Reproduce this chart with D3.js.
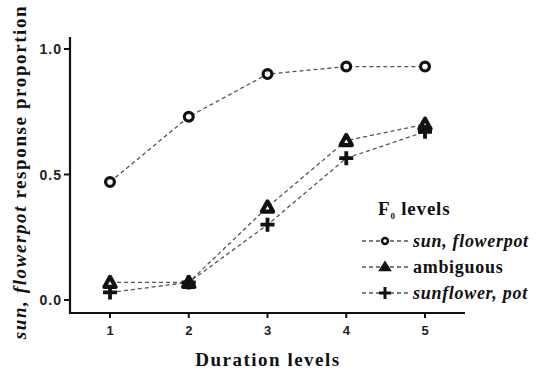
<!DOCTYPE html>
<html>
<head>
<meta charset="utf-8">
<script src="https://cdn.jsdelivr.net/npm/d3@7"></script>
<style>
  body { margin: 0; background: #fff; }
</style>
</head>
<body>
<div id="chart"></div>
<script>
const durations = [1, 2, 3, 4, 5];
const yTicks = [0.0, 0.5, 1.0];
const seriesNames = ["sun, flowerpot", "ambiguous", "sunflower, pot"];
const sunFlowerpot = [0.47, 0.73, 0.90, 0.93, 0.93];
const ambiguous = [0.07, 0.07, 0.37, 0.635, 0.70];
const sunflowerPot = [0.03, 0.07, 0.30, 0.565, 0.67];

const W = 544, H = 374;
const svg = d3.select("#chart").append("svg")
  .attr("width", W).attr("height", H);

const x = d3.scaleLinear().domain([1, 5]).range([110, 425]);
const y = d3.scaleLinear().domain([0, 1]).range([300, 49]);

const axisColor = "#111";
const sans = "Liberation Sans, Arial, sans-serif";
const serif = "Liberation Serif, Times New Roman, serif";

// x axis
const xAxis = svg.append("g").attr("transform", "translate(0,313)");
xAxis.append("line").attr("x1", 70).attr("x2", 465)
  .attr("stroke", axisColor).attr("stroke-width", 2.2);
durations.forEach(d => {
  xAxis.append("line").attr("x1", x(d)).attr("x2", x(d)).attr("y1", 0).attr("y2", 5)
    .attr("stroke", axisColor).attr("stroke-width", 2);
  xAxis.append("text").attr("x", x(d)).attr("y", 22)
    .attr("text-anchor", "middle")
    .attr("font-family", sans)
    .attr("font-weight", "bold").attr("font-size", 13).attr("fill", "#222")
    .text(d);
});

// y axis
const yAxis = svg.append("g");
yAxis.append("line").attr("x1", 70).attr("x2", 70).attr("y1", 37).attr("y2", 314)
  .attr("stroke", axisColor).attr("stroke-width", 2.2);
yTicks.forEach(t => {
  yAxis.append("line").attr("x1", 64).attr("x2", 70).attr("y1", y(t)).attr("y2", y(t))
    .attr("stroke", axisColor).attr("stroke-width", 2);
  yAxis.append("text").attr("x", 62).attr("y", y(t) + 5)
    .attr("text-anchor", "end")
    .attr("font-family", sans).attr("letter-spacing", 1)
    .attr("font-weight", "bold").attr("font-size", 14).attr("fill", "#222")
    .text(d3.format(".1f")(t));
});

// axis titles
svg.append("text").attr("x", 268).attr("y", 366)
  .attr("text-anchor", "middle")
  .attr("font-family", serif).attr("letter-spacing", 1.5)
  .attr("font-weight", "bold").attr("font-size", 19).attr("fill", "#111")
  .text("Duration levels");

const yTitle = svg.append("text")
  .attr("transform", "translate(26,172) rotate(-90)")
  .attr("text-anchor", "middle")
  .attr("font-family", serif).attr("letter-spacing", 1.6)
  .attr("font-weight", "bold").attr("font-size", 19).attr("fill", "#111");
yTitle.append("tspan").attr("font-style", "italic").text("sun, flowerpot");
yTitle.append("tspan").text(" response proportion");

// markers
function drawMarker(g, type, cx, cy) {
  if (type === 0) {
    g.append("circle").attr("cx", cx).attr("cy", cy).attr("r", 4.4)
      .attr("fill", "#fff").attr("stroke", "#111").attr("stroke-width", 3.2);
  } else if (type === 1) {
    const s = 5.6;
    g.append("path")
      .attr("d", `M${cx},${cy - s}L${cx + s},${cy + s * 0.8}L${cx - s},${cy + s * 0.8}Z`)
      .attr("fill", "#fff").attr("stroke", "#111").attr("stroke-width", 4.2)
      .attr("stroke-linejoin", "round");
  } else {
    const s = 7;
    g.append("path")
      .attr("d", `M${cx - s},${cy}H${cx + s}M${cx},${cy - s}V${cy + s}`)
      .attr("stroke", "#111").attr("stroke-width", 3.8);
  }
}

const allSeries = [sunFlowerpot, ambiguous, sunflowerPot];
const line = d3.line().x((d, i) => x(durations[i])).y(d => y(d));

allSeries.forEach(vals => {
  svg.append("path").datum(vals).attr("d", line)
    .attr("fill", "none").attr("stroke", "#555").attr("stroke-width", 1.3)
    .attr("stroke-dasharray", "4,3");
});
allSeries.forEach((vals, k) => {
  const g = svg.append("g");
  vals.forEach((v, i) => drawMarker(g, k, x(durations[i]), y(v)));
});

// legend
const lg = svg.append("g");
const title = lg.append("text").attr("x", 378).attr("y", 215)
  .attr("font-family", serif).attr("letter-spacing", 0.8)
  .attr("font-weight", "bold").attr("font-size", 19).attr("fill", "#111");
title.append("tspan").text("F");
title.append("tspan").attr("font-size", 9).attr("dy", 4).text("0");
title.append("tspan").attr("dy", -4).text(" levels");

seriesNames.forEach((name, k) => {
  const ly = 241 + k * 26;
  lg.append("line").attr("x1", 362).attr("x2", 410).attr("y1", ly).attr("y2", ly)
    .attr("stroke", "#555").attr("stroke-width", 1.3).attr("stroke-dasharray", "4,3");
  const mg = lg.append("g");
  if (k === 0) {
    mg.append("circle").attr("cx", 385).attr("cy", ly).attr("r", 3)
      .attr("fill", "#fff").attr("stroke", "#111").attr("stroke-width", 2.4);
  } else if (k === 1) {
    mg.append("path").attr("d", `M385,${ly - 5}L390.5,${ly + 3.5}L379.5,${ly + 3.5}Z`)
      .attr("fill", "#111").attr("stroke", "#111").attr("stroke-width", 1.5);
  } else {
    mg.append("path").attr("d", `M379,${ly}H391M385,${ly - 6}V${ly + 6}`)
      .attr("stroke", "#111").attr("stroke-width", 3);
  }
  lg.append("text").attr("x", 413).attr("y", ly + 6)
    .attr("font-family", serif).attr("letter-spacing", 0.7)
    .attr("font-weight", "bold").attr("font-size", 18)
    .attr("font-style", k === 1 ? "normal" : "italic").attr("fill", "#111")
    .text(name);
});
</script>
</body>
</html>
